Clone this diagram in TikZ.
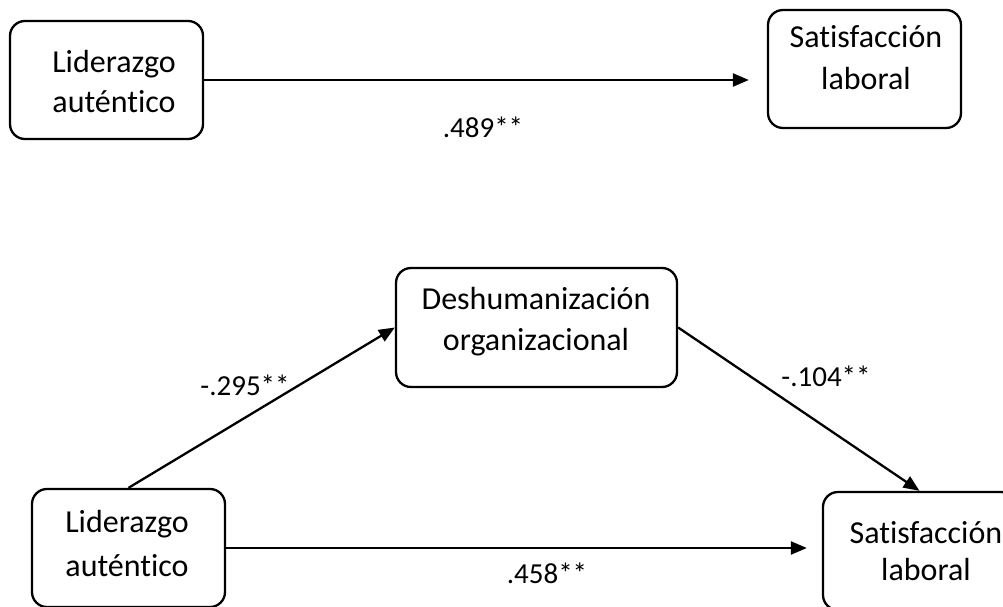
\documentclass[tikz,border=0pt]{standalone}
\usepackage{fontspec}
\setmainfont{Carlito}[Ligatures=CommonOff]
\usetikzlibrary{arrows.meta}
\begin{document}
\begin{tikzpicture}[x=1pt,y=-1pt,
  box/.style={draw, line width=2.3pt, rounded corners=15pt, minimum width=193pt, minimum height=118pt, inner sep=0pt},
  lbl/.style={anchor=base, inner sep=0pt, font=\fontsize{32}{39}\selectfont},
  coef/.style={anchor=base, inner sep=0pt, font=\fontsize{29}{35}\selectfont},
  link/.style={line width=2.3pt, -{Triangle[length=16pt,width=13pt]}}]
\useasboundingbox (0,0) rectangle (1003,607);
\clip (0,0) rectangle (1003,607);

% total effect model
\node[box] (tl) at (106.5,80) {};
\node[box] (tr) at (864.5,69) {};
\node[lbl] (tlA) at (114,73) {Liderazgo};
\node[lbl] (tlB) at (114,113) {auténtico};
\node[lbl] (trA) at (866,48) {Satisfacción};
\node[lbl] (trB) at (866,90) {laboral};
\draw[link, shorten >=18pt] (tl.east) -- (tl.east -| tr.west);
\node[coef] (c1) at (483,137) {.489**};

% mediation model
\node[box, minimum width=281pt, minimum height=119pt] (md) at (536.5,327.5) {};
\node[box] (bl) at (128.5,548) {};
\node[box] (br) at (919.5,551) {};
\node[lbl] (mdA) at (536,309) {Deshumanización};
\node[lbl] (mdB) at (536,350) {organizacional};
\node[lbl] (blA) at (127,532) {Liderazgo};
\node[lbl] (blB) at (127,576) {auténtico};
\node[lbl] (brA) at (926,543) {Satisfacción};
\node[lbl] (brB) at (926,580) {laboral};

\draw[link] (bl.north) -- (md.west);
\draw[link] (md.east) -- (br.north);
\draw[link, shorten >=15pt] (bl.east) -- (bl.east -| br.west);

\node[coef] (c2) at (245,395) {-.295**};
\node[coef] (c3) at (826,386) {-.104**};
\node[coef] (c4) at (547,583) {.458**};
\end{tikzpicture}
\end{document}
